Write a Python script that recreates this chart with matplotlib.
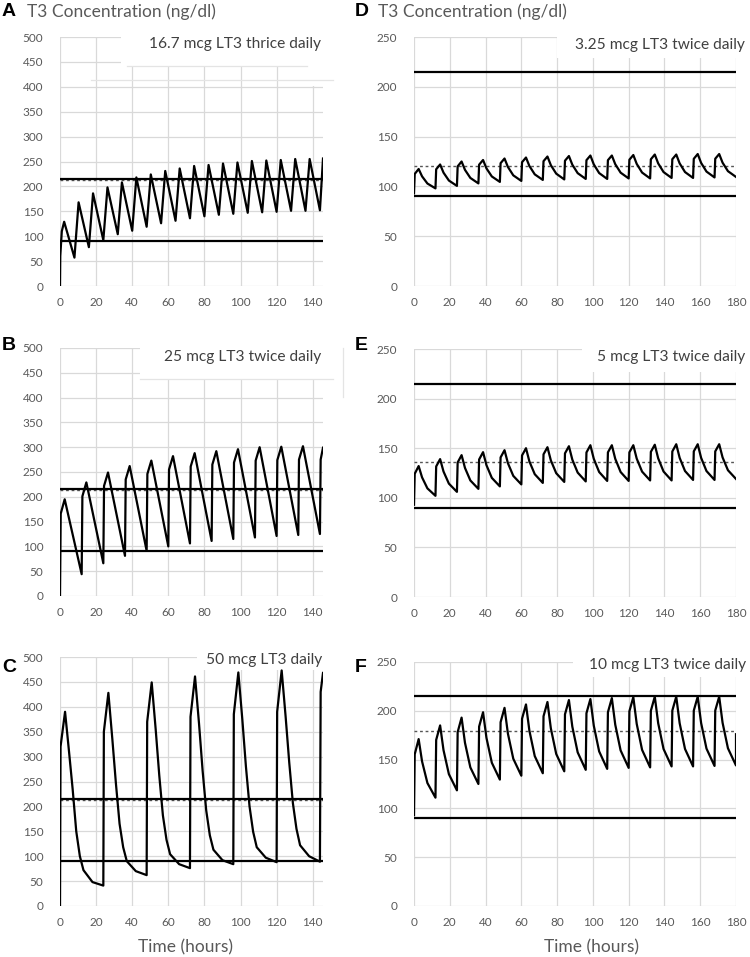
import matplotlib
matplotlib.use("Agg")
import matplotlib.pyplot as plt
from matplotlib.patches import Rectangle

# ---------------- data ----------------
ref_low = 90
ref_high = 215

# Panel A: 16.7 mcg thrice daily (dose every 8 h)
A_interval = 8
A_peak_delay = 2.3
A_start_t = [0, 0.15, 1.0]
A_start_v = [0, 60, 110]
A_peaks = [129, 168, 186, 198, 208, 218, 224, 231, 236, 241, 243, 246, 248, 251, 252, 253, 255, 255]
A_troughs = [57, 78, 92, 104, 111, 119, 126, 131, 136, 140, 143, 145, 147, 148, 149, 151, 151, 152]
A_end_t = [145.7]
A_end_v = [256]
A_mean = 213

# Panel B: 25 mcg twice daily (dose every 12 h)
B_interval = 12
B_offsets = [0.4, 2.6]
B_rise = [166, 201, 222, 235, 246, 255, 261, 265, 269, 273, 274, 275]
B_peaks = [195, 229, 249, 262, 273, 282, 288, 292, 296, 300, 301, 302]
B_troughs = [44, 66, 81, 91, 100, 106, 111, 115, 118, 121, 123, 125]
B_end_t = [144.4, 145.7]
B_end_v = [275, 299]
B_mean = 213

# Panel C: 50 mcg daily (dose every 24 h)
C_interval = 24
C_offsets = [0.3, 2.8, 5, 7, 9, 11, 13, 18]
C_cycles = [
    [320, 390, 310, 235, 150, 100, 72, 48],
    [350, 428, 335, 245, 165, 118, 90, 70],
    [370, 449, 355, 262, 182, 133, 104, 84],
    [380, 461, 367, 272, 192, 142, 113, 92],
    [385, 469, 375, 280, 200, 149, 118, 97],
    [390, 473, 380, 288, 207, 155, 122, 100],
]
C_troughs = [41, 62, 76, 84, 88, 89]
C_end_t = [144.4, 145.7]
C_end_v = [430, 468]
C_mean = 213

# Panels D-F: twice daily (dose every 12 h), 0-180 h
DEF_interval = 12
DEF_offsets = [0.4, 2.6, 4.5, 7.5]   # rise, peak, early decay, late decay

D_start = 93
D_rise = [112.5, 117.2, 120.1, 121.8, 123.3, 124.3, 125.3, 125.8, 126.3, 126.3, 126.8, 127.2, 127.3, 127.7, 127.8]
D_peaks = [117.5, 122, 125, 126.5, 128, 129, 130, 130.5, 131, 131, 131.5, 132, 132, 132.5, 132.5]
D_mid1 = [110.1, 113.8, 116.6, 118.1, 119.5, 120.5, 121.3, 121.8, 122.1, 122.3, 122.6, 123.1, 123.1, 123.6, 123.8]
D_mid2 = [102.9, 105.9, 108.5, 110.0, 111.1, 112.1, 112.8, 113.3, 113.4, 113.8, 113.9, 114.4, 114.4, 114.9, 115.3]
D_troughs = [98, 100.5, 103, 104.5, 105.5, 106.5, 107, 107.5, 107.5, 108, 108, 108.5, 108.5, 109, 109.5]
D_mean = 120

E_start = 93
E_rise = [124.2, 131.6, 135.6, 138.6, 140.7, 142.7, 143.8, 144.8, 145.7, 145.8, 145.8, 146.3, 146.7, 146.8, 146.8]
E_peaks = [132, 139, 143, 146, 148, 150, 151, 152, 153, 153, 153, 153.5, 154, 154, 154]
E_mid1 = [120.6, 126.5, 130.1, 132.9, 134.9, 136.7, 137.7, 138.5, 139.3, 139.3, 139.5, 139.8, 140.3, 140.3, 140.7]
E_mid2 = [109.5, 114.3, 117.5, 120.1, 122.1, 123.8, 124.8, 125.4, 126.0, 126.0, 126.4, 126.5, 127.0, 127.0, 127.8]
E_troughs = [102, 106, 109, 111.5, 113.5, 115, 116, 116.5, 117, 117, 117.5, 117.5, 118, 118, 119]
E_mean = 136.5

F_start = 93
F_rise = [155.4, 170.2, 178.1, 183.8, 188.3, 191.9, 194.4, 196.4, 197.5, 198.5, 199.5, 200, 200.2, 200.2, 200.3]
F_peaks = [171, 185, 193, 198.5, 203, 206.5, 209, 211, 212, 213, 214, 214.5, 214.5, 214.5, 214.5]
F_mid1 = [148.2, 159.7, 167.2, 172.3, 176.6, 179.7, 182.0, 183.8, 184.8, 185.8, 186.6, 187.3, 187.3, 187.5, 187.7]
F_mid2 = [126.0, 135.1, 142.0, 146.8, 150.9, 153.6, 155.8, 157.4, 158.4, 159.4, 160.0, 160.9, 160.9, 161.3, 161.6]
F_troughs = [111, 118.5, 125, 129.5, 133.5, 136, 138, 139.5, 140.5, 141.5, 142, 143, 143, 143.5, 144]
F_end_t = [180]
F_end_v = [176]
F_mean = 179

titles = ["16.7 mcg LT3 thrice daily", "25 mcg LT3 twice daily", "50 mcg LT3 daily",
          "3.25 mcg LT3 twice daily", "5 mcg LT3 twice daily", "10 mcg LT3 twice daily"]
letters = ["A", "B", "C", "D", "E", "F"]
header = "T3 Concentration (ng/dl)"
xlabel = "Time (hours)"

# ---------------- build curves ----------------
def curve_A():
    t, v = list(A_start_t), list(A_start_v)
    for k, (p, tr) in enumerate(zip(A_peaks, A_troughs)):
        d = k * A_interval
        t += [d + A_peak_delay, d + A_interval]
        v += [p, tr]
    return t + A_end_t, v + A_end_v

def curve_B():
    t, v = [0], [0]
    for k in range(len(B_peaks)):
        d = k * B_interval
        t += [d + o for o in B_offsets] + [d + B_interval]
        v += [B_rise[k], B_peaks[k], B_troughs[k]]
    return t + B_end_t, v + B_end_v

def curve_C():
    t, v = [0], [0]
    for k, vals in enumerate(C_cycles):
        d = k * C_interval
        t += [d + o for o in C_offsets] + [d + C_interval]
        v += list(vals) + [C_troughs[k]]
    return t + C_end_t, v + C_end_v

def curve_DEF(start, rise, peaks, mid1, mid2, troughs, end_t=(), end_v=()):
    t, v = [0], [start]
    for k in range(len(peaks)):
        d = k * DEF_interval
        t += [d + o for o in DEF_offsets] + [d + DEF_interval]
        v += [rise[k], peaks[k], mid1[k], mid2[k], troughs[k]]
    return t + list(end_t), v + list(end_v)

curves = [curve_A(), curve_B(), curve_C(),
          curve_DEF(D_start, D_rise, D_peaks, D_mid1, D_mid2, D_troughs),
          curve_DEF(E_start, E_rise, E_peaks, E_mid1, E_mid2, E_troughs),
          curve_DEF(F_start, F_rise, F_peaks, F_mid1, F_mid2, F_troughs, F_end_t, F_end_v)]
means = [A_mean, B_mean, C_mean, D_mean, E_mean, F_mean]

# ---------------- layout ----------------
W, H = 750, 957
fig = plt.figure(figsize=(W / 100, H / 100), dpi=100)
FONT = ["Lato", "DejaVu Sans"]
GRAY = "#595959"
GRID = "#d9d9d9"

# (left, top, right, bottom) in pixels
boxes = [(60, 37, 323, 286), (60, 348, 323, 596), (60, 657, 323, 906),
         (414, 37, 736, 286), (414, 349, 736, 597), (414, 662, 736, 906)]
xmax_left = 145.7
xmax_right = 180
# white boxes behind titles (data coords: x0, x1, y0, y1)
covers = [(34, 151, 441, 506), (44.3, 156.6, 438, 506), (75.8, 150, 474, 506),
          (80, 187, 229, 253), (94, 187, 227, 253), (89, 187, 235, 253)]
title_pos = [(320.7, 44), (321.7, 357), (322.7, 660), (745, 45), (745.7, 357), (745.7, 665)]
letter_pos = [(2, 12), (2, 346), (2, 668), (355, 12), (355, 346), (355, 668)]

def px(x, y):
    return x / W, 1 - y / H

for i, (l, t_, r, b) in enumerate(boxes):
    ax = fig.add_axes([l / W, 1 - b / H, (r - l) / W, (b - t_) / H])
    left = i < 3
    xmax = xmax_left if left else xmax_right
    ymax = 500 if left else 250
    ax.set_xlim(0, xmax)
    ax.set_ylim(0, ymax)
    ax.set_xticks(range(0, 141, 20) if left else range(0, 181, 20))
    ax.set_yticks(range(0, ymax + 1, 50))
    ax.set_axisbelow(True)
    ax.grid(True, color=GRID, lw=0.9)
    for s in ax.spines.values():
        s.set_visible(False)
    ax.tick_params(length=0, colors=GRAY, labelsize=8.5, pad=12)
    ax.tick_params(axis="x", pad=8)
    for lab in ax.get_xticklabels() + ax.get_yticklabels():
        lab.set_family(FONT)

    x0, x1, y0, y1 = covers[i]
    ax.add_patch(Rectangle((x0, y0), x1 - x0, y1 - y0, facecolor="white",
                           edgecolor="none", zorder=1, clip_on=False))
    if i == 0:
        ax.add_patch(Rectangle((137, 402), 14, 39, facecolor="white",
                               edgecolor="none", zorder=1, clip_on=False))
        ax.plot([37, 137], [441, 441], color="#e4e4e4", lw=0.9, zorder=1.2, clip_on=False)
        ax.plot([17, 151], [414, 414], color="#e4e4e4", lw=0.9, zorder=1.2, clip_on=False)
    if i == 1:
        ax.plot([44.3, 151], [438, 438], color="#e4e4e4", lw=0.9, zorder=1.2, clip_on=False)
        ax.plot([156.6, 156.6], [402, 500], color="#e4e4e4", lw=0.9, zorder=1.2, clip_on=False)

    ax.axhline(means[i], color="#555555", lw=1.0, ls=(0, (2, 2)), zorder=2)
    ax.axhline(ref_low, color="black", lw=1.6, zorder=2.5)
    ax.axhline(ref_high, color="black", lw=1.6, zorder=2.5)
    tt, vv = curves[i]
    ax.plot(tt, vv, color="black", lw=1.6, zorder=3, solid_joinstyle="round")

    tx, ty = title_pos[i]
    fig.text(*px(tx, ty), titles[i], ha="right", va="center", fontsize=11.2,
             color="#404040", family=FONT)
    lx, ly = letter_pos[i]
    fig.text(*px(lx, ly), letters[i], ha="left", va="center", fontsize=14,
             fontweight="bold", color="black", family=["Liberation Sans", "DejaVu Sans"])

fig.text(*px(27, 12), header, ha="left", va="center", fontsize=12.5, color=GRAY, family=FONT)
fig.text(*px(378, 12), header, ha="left", va="center", fontsize=12.5, color=GRAY, family=FONT)
fig.text(*px(186, 947), xlabel, ha="center", va="center", fontsize=12.5, color=GRAY, family=FONT)
fig.text(*px(592, 947), xlabel, ha="center", va="center", fontsize=12.5, color=GRAY, family=FONT)

fig.savefig("out.png", dpi=100, facecolor="white")
